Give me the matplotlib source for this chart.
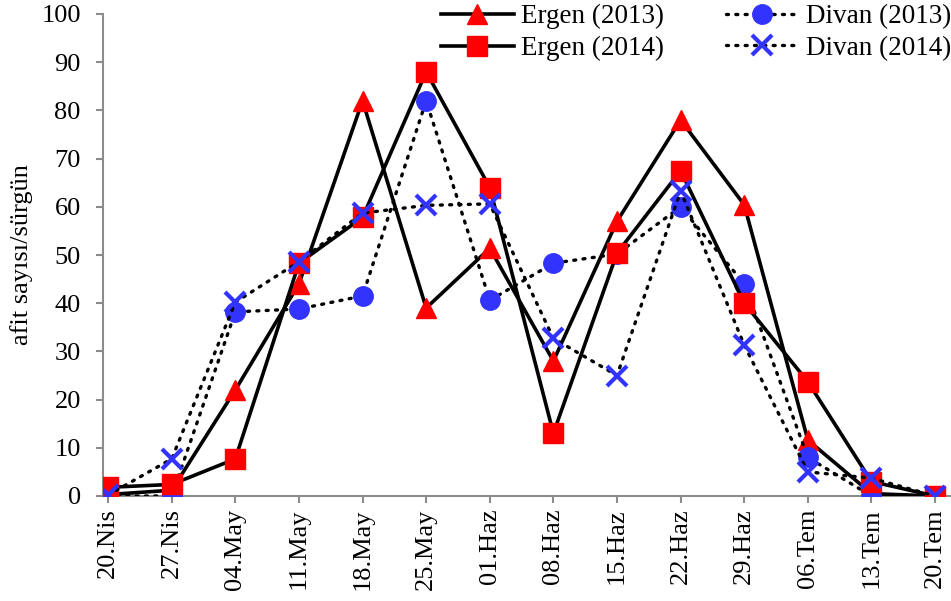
import matplotlib
matplotlib.use("Agg")
import matplotlib.pyplot as plt

plt.rcParams['font.family'] = ['Liberation Serif', 'DejaVu Serif']

dates = ['20.Nis', '27.Nis', '04.May', '11.May', '18.May', '25.May', '01.Haz',
         '08.Haz', '15.Haz', '22.Haz', '29.Haz', '06.Tem', '13.Tem', '20.Tem']

# afit sayisi / surgun
ergen_2013 = [0.3, 1.2, 22, 44, 82, 39, 51.4, 28, 57, 78, 60.4, 11.6, 0.5, 0]
ergen_2014 = [1.8, 2.4, 7.7, 48.3, 57.8, 88, 64, 13, 50.4, 67.5, 40, 23.7, 3, 0]
divan_2013 = [0, 0, 38.2, 38.8, 41.5, 82, 40.6, 48.3, 50.2, 60, 44, 8, 0, 0]
divan_2014 = [0.2, 7.7, 40.2, 48.6, 58.7, 60.3, 60.6, 32.7, 25, 63.3, 31.3, 5, 3.7, 0]

x = list(range(len(dates)))

fig = plt.figure(figsize=(9.51, 6.01), dpi=100)
ax = fig.add_axes([103 / 951, 105 / 601, 848 / 951, 482 / 601])

dot = (0, (0.6, 2.2))
h1, = ax.plot(x, ergen_2013, color='black', lw=2.6, marker='^', ms=15,
              mfc='#ff0000', mec='#ff0000', label='Ergen (2013)', zorder=3)
h3, = ax.plot(x, divan_2013, color='black', lw=2.4, ls=dot, dash_capstyle='round',
              marker='o', ms=14, mfc='#3333ff', mec='#3333ff',
              label='Divan (2013)', zorder=4)
h2, = ax.plot(x, ergen_2014, color='black', lw=2.6, marker='s', ms=14,
              mfc='#ff0000', mec='#ff0000', label='Ergen (2014)', zorder=5)
h4, = ax.plot(x, divan_2014, color='black', lw=2.4, ls=dot, dash_capstyle='round',
              marker='x', ms=14, mew=3, mfc='#3333ff', mec='#3333ff',
              label='Divan (2014)', zorder=6)

ax.set_xlim(-0.08, 13.25)
ax.set_ylim(0, 100)
ax.set_yticks(range(0, 101, 10))
ax.set_xticks(x)
ax.set_xticklabels(dates, rotation=90)

for side in ['top', 'right']:
    ax.spines[side].set_visible(False)
for side in ['left', 'bottom']:
    ax.spines[side].set_color('#8c8c8c')
    ax.spines[side].set_linewidth(1.5)
ax.tick_params(axis='both', colors='#8c8c8c', labelcolor='black',
               direction='out', length=5, width=1.5, labelsize=19)
ax.tick_params(axis='y', pad=11)
ax.tick_params(axis='x', pad=4)

ax.set_ylabel('afit sayısı/sürgün', fontsize=19, labelpad=6)

leg = fig.legend(handles=[h1, h2, h3, h4], ncol=2, loc='upper right',
                 bbox_to_anchor=(1.0, 0.993), frameon=False, fontsize=19.5,
                 handlelength=2.7, handletextpad=0.25, columnspacing=2.3,
                 labelspacing=0.24, borderpad=0, borderaxespad=0)

fig.savefig('out.png', dpi=100)
